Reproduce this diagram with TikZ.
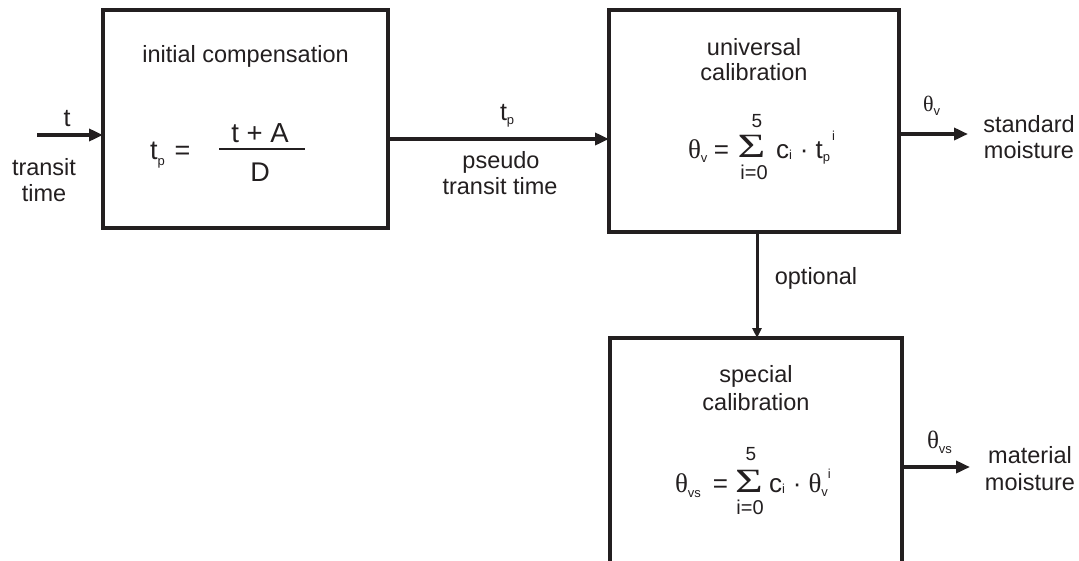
\documentclass[tikz,border=0pt]{standalone}
\usepackage{fontspec}
\setmainfont{Liberation Sans}
\newfontfamily\serifgr{Liberation Serif}
\usepackage{graphicx}
\usetikzlibrary{arrows.meta}
\definecolor{ink}{HTML}{231F20}
\newcommand\fs[1]{\fontsize{#1}{#1}\selectfont}
\newcommand\Th[1][27]{{\serifgr\fs{#1}θ}}
\newcommand\lo[2][-3pt]{\raisebox{#1}{\fs{13}#2}}
\newcommand\hi[2][18pt]{\raisebox{#1}{\fs{13}#2}}
\newcommand\Sig{\raisebox{0pt}[21pt][0pt]{\serifgr\fs{34}\scalebox{1.4}[1]{Σ}}}
\begin{document}
\begin{tikzpicture}[x=1pt,y=-1pt,
  every node/.style={inner sep=0pt, outer sep=0pt, text=ink, font=\fs{23.5}},
  box/.style={draw=ink, line width=3.5pt, fill=none},
  lbl/.style={anchor=base},
  lblw/.style={anchor=base west},
  eq/.style={font=\fs{26}},
  arr/.style={draw=ink, line width=4pt, -{Triangle[length=14pt,width=12pt]}},
  varr/.style={draw=ink, line width=3pt, -{Triangle[length=10pt,width=9pt]}},
  bar/.style={draw=ink, line width=2pt}]
\useasboundingbox (0,0) rectangle (1079,560);
\clip (0,0) rectangle (1079,560);
\fill[white] (0,0) rectangle (1079,560);
% boxes
\node[box, minimum width=285pt, minimum height=218pt] (b1) at (245.5,119) {};
\node[box, minimum width=290pt, minimum height=222pt] (b2) at (754,121) {};
\node[box, minimum width=292pt, minimum height=262pt] (b3) at (756,469) {};
% box 1 text
\node[lbl] (t1) at (245.5,62) {initial compensation};
\node[lblw, font=\fs{27}] (e1a) at (150,159) {t\lo[-6pt]{p}\hspace{10pt}=};
\node[lbl, font=\fs{27.5}] (e1n) at (260,142) {t + A};
\node[lbl, font=\fs{27}] (e1d) at (260,181) {D};
\draw[bar] (219,149) -- (305,149);
% box 2 text
\node[lbl] (t2a) at (754,55) {universal};
\node[lbl] (t2b) at (754,80) {calibration};
\node[lblw, eq] (e2a) at (688,158) {\Th\lo[-4pt]{v}};
\node[lbl, eq] (e2eq) at (721.5,158) {=};
\node[lbl] (e2s) at (751.5,157) {\Sig};
\node[lbl, font=\fs{19}] (e2u) at (757,127) {5};
\node[lbl, font=\fs{20}] (e2l) at (754,179) {i=0};
\node[lblw, eq] (e2b) at (776,158) {c\lo[-1pt]{i}\hspace{8pt}·\hspace{7pt}t\lo[-3pt]{p}\hspace{2pt}\hi[18pt]{i}};
% box 3 text
\node[lbl] (t3a) at (756,382) {special};
\node[lbl] (t3b) at (756,410) {calibration};
\node[lblw, eq] (e3a) at (675,492) {\Th\lo[-5pt]{vs}};
\node[lbl, eq] (e3eq) at (720.5,492) {=};
\node[lbl] (e3s) at (749,492) {\Sig};
\node[lbl, font=\fs{19}] (e3u) at (751,460) {5};
\node[lbl, font=\fs{20}] (e3l) at (750,514) {i=0};
\node[lblw, eq] (e3b) at (769,492) {c\lo[-1pt]{i}\hspace{8pt}·\hspace{7pt}\Th\lo[-4pt]{v}\hi[14pt]{i}};
% connectors
\coordinate (inS) at (37,135);
\draw[arr] (inS) -- (inS -| b1.west);
\coordinate (m) at (500,139);
\draw[arr] (m -| b1.east) -- (m -| b2.west);
\coordinate (o1) at (968,134);
\draw[arr] (o1 -| b2.east) -- (o1);
\coordinate (v) at (757,0);
\draw[varr] (v |- b2.south) -- (v |- b3.north);
\coordinate (o2) at (970,467);
\draw[arr] (o2 -| b3.east) -- (o2);
% outside labels
\node[lbl, font=\fs{25}] (lt) at (67,126) {t};
\node[lbl] (lt1) at (44,175) {transit};
\node[lbl] (lt2) at (44,201) {time};
\node[lblw, font=\fs{25}] (lm) at (500,120) {t\lo[-4pt]{p}};
\node[lbl] (lm1) at (501,168) {pseudo};
\node[lbl] (lm2) at (500,194) {transit time};
\node[lblw] (lo1) at (923,111) {\Th[22]\lo[-4pt]{v}};
\node[lbl] (lo1a) at (1029,132) {standard};
\node[lbl] (lo1b) at (1029,158) {moisture};
\node[lbl] (lop) at (816,284) {optional};
\node[lblw] (lo2) at (927,448) {\Th[25]\lo[-5pt]{vs}};
\node[lbl] (lo2a) at (1030,463) {material};
\node[lbl] (lo2b) at (1030,490) {moisture};
\end{tikzpicture}
\end{document}
